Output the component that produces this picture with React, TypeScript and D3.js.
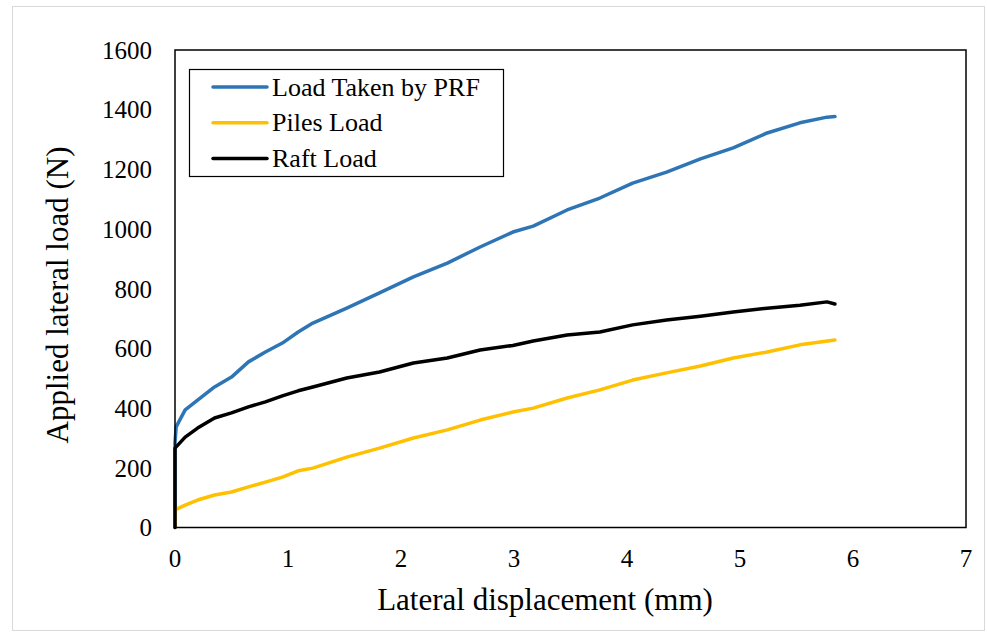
import React from 'react';
import * as d3 from 'd3';

const W = 987;
const H = 635;

// displacement (mm) / load (N)
const prfDisp = [0, 0, 0.01, 0.09, 0.2, 0.35, 0.5, 0.65, 0.8, 0.95, 1.09, 1.22, 1.52, 1.81, 2.11, 2.41, 2.7, 2.99, 3.17, 3.47, 3.76, 4.05, 4.35, 4.65, 4.94, 5.24, 5.53, 5.77, 5.84];
const prfLoad = [0, 283, 337, 394, 427, 471, 504, 555, 588, 618, 655, 685, 735, 786, 840, 886, 940, 990, 1010, 1064, 1104, 1154, 1191, 1235, 1272, 1322, 1356, 1375, 1377];

const raftDisp = [0, 0, 0.09, 0.2, 0.35, 0.5, 0.65, 0.8, 0.95, 1.09, 1.22, 1.52, 1.81, 2.11, 2.41, 2.7, 2.99, 3.17, 3.47, 3.76, 4.05, 4.35, 4.65, 4.94, 5.24, 5.53, 5.77, 5.84];
const raftLoad = [0, 266, 303, 333, 367, 384, 404, 421, 441, 458, 471, 501, 521, 551, 568, 595, 610, 625, 645, 655, 679, 695, 708, 722, 735, 745, 756, 749];

const pilesDisp = [0, 0, 0.09, 0.2, 0.35, 0.5, 0.65, 0.8, 0.95, 1.09, 1.22, 1.52, 1.81, 2.11, 2.41, 2.7, 2.99, 3.17, 3.47, 3.76, 4.05, 4.35, 4.65, 4.94, 5.24, 5.53, 5.84];
const pilesLoad = [0, 59, 75, 92, 109, 119, 136, 152, 169, 190, 199, 236, 266, 300, 327, 360, 387, 400, 434, 461, 494, 518, 541, 568, 588, 612, 628];

const xTicks = [0, 1, 2, 3, 4, 5, 6, 7];
const yTicks = [0, 200, 400, 600, 800, 1000, 1200, 1400, 1600];

const seriesNames = ['Load Taken by PRF', 'Piles Load', 'Raft Load'];
const seriesColors = ['#2E75B6', '#FFC000', '#000000'];

const serif = { fontFamily: "'Liberation Serif', 'Times New Roman', serif" };

export default function App() {
  const x = d3.scaleLinear().domain([0, 7]).range([175, 966]);
  const y = d3.scaleLinear().domain([0, 1600]).range([527.5, 50]);

  const line = d3
    .line<[number, number]>()
    .x(d => x(d[0]))
    .y(d => y(d[1]));

  const series = [
    d3.zip(prfDisp, prfLoad),
    d3.zip(pilesDisp, pilesLoad),
    d3.zip(raftDisp, raftLoad),
  ];

  return (
    <svg
      width={W}
      height={H}
      style={{ position: 'absolute', left: 0, top: 0, background: '#fff' }}
    >
      <rect x={12.5} y={6.5} width={972} height={624} fill="#fff" stroke="#d9d9d9" strokeWidth={1} />

      {yTicks.map(t => (
        <text key={t} x={152} y={y(t)} dy="0.35em" textAnchor="end" fontSize={25} fill="#000" style={serif}>
          {t}
        </text>
      ))}
      {xTicks.map(t => (
        <text key={t} x={x(t)} y={567} textAnchor="middle" fontSize={25} fill="#000" style={serif}>
          {t}
        </text>
      ))}

      {series.map((d, i) => (
        <path
          key={i}
          d={line(d as [number, number][]) || ''}
          fill="none"
          stroke={seriesColors[i]}
          strokeWidth={3.5}
          strokeLinejoin="round"
          strokeLinecap="round"
        />
      ))}

      <rect
        x={x(0)}
        y={y(1600)}
        width={x(7) - x(0)}
        height={y(0) - y(1600)}
        fill="none"
        stroke="#000"
        strokeWidth={1.5}
      />

      <g>
        <rect x={189.5} y={69.5} width={314} height={107} fill="#fff" stroke="#000" strokeWidth={1.2} />
        {seriesNames.map((n, i) => (
          <g key={n} transform={`translate(0, ${87 + i * 35.8})`}>
            <line x1={213} x2={267} y1={0} y2={0} stroke={seriesColors[i]} strokeWidth={3.5} strokeLinecap="round" />
            <text x={272} y={0} dy="0.33em" fontSize={26} fill="#000" style={serif}>
              {n}
            </text>
          </g>
        ))}
      </g>

      <text x={545} y={610} textAnchor="middle" fontSize={31} fill="#000" style={serif}>
        Lateral displacement (mm)
      </text>
      <text
        transform={`translate(68, 295) rotate(-90)`}
        textAnchor="middle"
        fontSize={31}
        fill="#000"
        style={serif}
      >
        Applied lateral load (N)
      </text>
    </svg>
  );
}
